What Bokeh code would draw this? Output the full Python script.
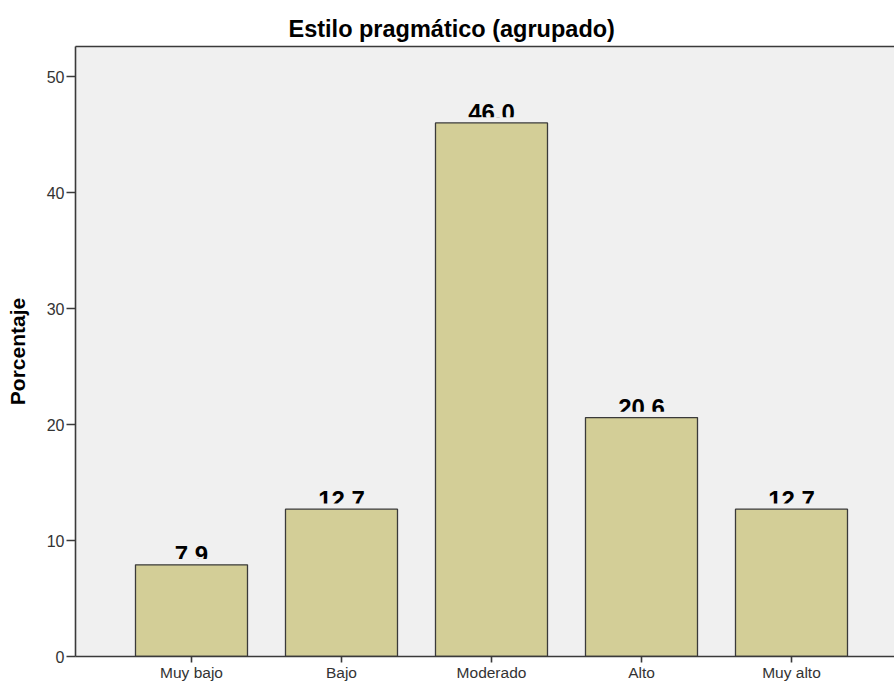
from bokeh.plotting import figure
from bokeh.models import Range1d, FixedTicker, LinearAxis, ColumnDataSource
from bokeh.core.properties import value
from bokeh.embed import file_html
from bokeh.resources import INLINE

# ---- data ----
categories = ["Muy bajo", "Bajo", "Moderado", "Alto", "Muy alto"]
percentages = [7.9, 12.7, 46.0, 20.6, 12.7]
y_ticks = [0, 10, 20, 30, 40, 50]
title_text = "Estilo pragmático (agrupado)"
y_label = "Porcentaje"

# ---- styles ----
FONT = "Liberation Sans"
BG = "#F0F0F0"
BAR = "#D3CE97"
EDGE = "#3A3A3A"
AX = "#3A3A3A"

pos = list(range(1, len(categories) + 1))
labels = ["%.1f" % v for v in percentages]
src = ColumnDataSource(dict(x=pos, top=percentages, lab=labels,
                            cover_top=[v + 0.5 for v in percentages]))

p = figure(width=894, height=684, output_backend="svg", toolbar_location=None,
           x_range=Range1d(0.2267, 5.6867), y_range=Range1d(0, 52.59),
           min_border_left=75, min_border_top=46, min_border_right=0, min_border_bottom=28)
p.background_fill_color = BG
p.border_fill_color = "white"
p.outline_line_color = None
p.xgrid.visible = False
p.ygrid.visible = False

p.title.text = title_text
p.title.align = "left"
p.title.offset = 213
p.title.text_font = FONT
p.title.text_font_size = "23.5px"
p.title.text_font_style = "bold"
p.title.text_color = "black"

# value labels (drawn first, partly hidden)
p.text(x="x", y="top", text="lab", source=src, text_align="center",
       text_baseline="alphabetic", y_offset=-10,
       text_font=value(FONT), text_font_size="24px", text_font_style="bold",
       text_color="black")
# background strip clipping the label bottoms
p.vbar(x="x", bottom="top", top="cover_top", width=0.7467, source=src,
       fill_color=BG, line_color=None)
# bars
p.vbar(x="x", top="top", bottom=0, width=0.7467, source=src,
       fill_color=BAR, line_color=EDGE, line_width=1.3)

# y axis
ya = p.yaxis[0]
ya.ticker = FixedTicker(ticks=y_ticks)
ya.axis_label = y_label
ya.axis_label_text_font = FONT
ya.axis_label_text_font_size = "21px"
ya.axis_label_text_font_style = "bold"
ya.axis_label_text_color = "black"
ya.axis_label_standoff = 15
ya.major_label_text_font = FONT
ya.major_label_text_font_size = "16px"
ya.major_label_text_color = "#333333"
ya.major_label_standoff = 2
ya.major_tick_in = 0
ya.major_tick_out = 9
ya.minor_tick_line_color = None
ya.axis_line_color = AX
ya.axis_line_width = 1.6
ya.major_tick_line_color = AX
ya.major_tick_line_width = 1.6

# x axis
xa = p.xaxis[0]
xa.ticker = FixedTicker(ticks=pos)
xa.major_label_overrides = {i: c for i, c in zip(pos, categories)}
xa.major_label_text_font = FONT
xa.major_label_text_font_size = "15.5px"
xa.major_label_text_color = "#333333"
xa.major_label_standoff = 1
xa.major_tick_in = 0
xa.major_tick_out = 6
xa.minor_tick_line_color = None
xa.axis_line_color = AX
xa.axis_line_width = 1.6
xa.major_tick_line_color = AX
xa.major_tick_line_width = 1.6

# top frame line
top_axis = LinearAxis(ticker=FixedTicker(ticks=[]), major_label_text_font_size="0px",
                      major_tick_out=0, major_tick_in=0, minor_tick_line_color=None,
                      axis_line_color=AX, axis_line_width=1.6)
p.add_layout(top_axis, "above")

open("out.html", "w").write(file_html(p, INLINE))
